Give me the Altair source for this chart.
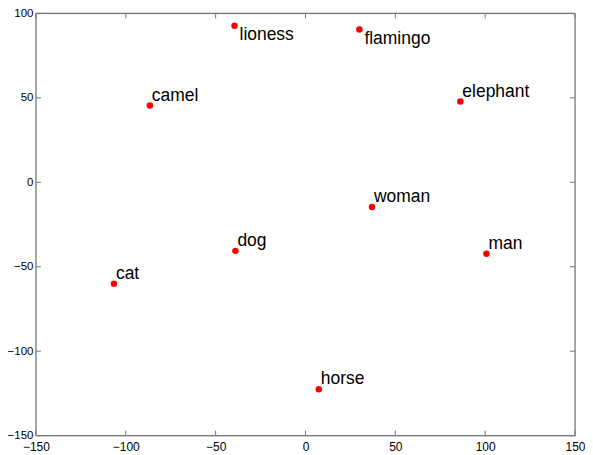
import altair as alt
import pandas as pd

words = ["lioness", "flamingo", "camel", "elephant", "woman", "dog", "man", "cat", "horse"]
xs = [-39.5, 30, -86.6, 86.2, 37, -39, 100.7, -106.6, 7.4]
ys = [92.7, 90.5, 45.4, 47.8, -14.6, -40.6, -42.3, -60, -122.5]
below_words = ["lioness", "flamingo"]
tick_values = [-150, -100, -50, 0, 50, 100, 150]
ytick_values = [-150, -100, -50, 0, 50, 100]

df = pd.DataFrame({"word": words, "x": xs, "y": ys})
ticks = pd.DataFrame({"v": tick_values})
yticks = pd.DataFrame({"v": ytick_values})

W, H = 540, 423
FONT = "Liberation Sans"
GRAY = "#777777"

xscale = alt.Scale(domain=[-150, 150], nice=False, zero=False)
yscale = alt.Scale(domain=[-150, 100], nice=False, zero=False)

xaxis = alt.Axis(values=tick_values, title=None, tickSize=0, labelPadding=6, domain=False,
                 grid=False, labelFont=FONT, labelFontSize=12, labelColor="black", labelFlush=False)
yaxis = alt.Axis(values=ytick_values, title=None, tickSize=0, labelPadding=3, domain=False,
                 grid=False, labelFont=FONT, labelFontSize=11.5, labelColor="black", labelFlush=False)

base = alt.Chart(df)

points = base.mark_circle(size=42, color="#ff0000", opacity=1).encode(
    x=alt.X("x:Q", scale=xscale, axis=xaxis),
    y=alt.Y("y:Q", scale=yscale, axis=yaxis),
)

labels_above = base.transform_filter(
    ~alt.FieldOneOfPredicate(field="word", oneOf=below_words)
).mark_text(align="left", baseline="alphabetic", dx=2, dy=-5, font=FONT, fontSize=17.5, color="black").encode(
    x=alt.X("x:Q", scale=xscale), y=alt.Y("y:Q", scale=yscale), text="word:N"
)

labels_below = base.transform_filter(
    alt.FieldOneOfPredicate(field="word", oneOf=below_words)
).mark_text(align="left", baseline="alphabetic", dx=5, dy=14.5, font=FONT, fontSize=17.5, color="black").encode(
    x=alt.X("x:Q", scale=xscale), y=alt.Y("y:Q", scale=yscale), text="word:N"
)

tk = alt.Chart(ticks)
ytk = alt.Chart(yticks)
xt_bottom = tk.mark_rule(color=GRAY, strokeWidth=1).encode(
    x=alt.X("v:Q", scale=xscale), y=alt.value(H), y2=alt.value(H - 5))
xt_top = tk.mark_rule(color=GRAY, strokeWidth=1).encode(
    x=alt.X("v:Q", scale=xscale), y=alt.value(0), y2=alt.value(5))
yt_left = ytk.mark_rule(color=GRAY, strokeWidth=1).encode(
    y=alt.Y("v:Q", scale=yscale), x=alt.value(0), x2=alt.value(5))
yt_right = ytk.mark_rule(color=GRAY, strokeWidth=1).encode(
    y=alt.Y("v:Q", scale=yscale), x=alt.value(W - 5), x2=alt.value(W))

frame_src = alt.Chart(pd.DataFrame({"k": [0]}))
frame = alt.layer(
    frame_src.mark_rule(color=GRAY, strokeWidth=1.2).encode(x=alt.value(0), y=alt.value(0), y2=alt.value(H)),
    frame_src.mark_rule(color=GRAY, strokeWidth=1.2).encode(x=alt.value(W), y=alt.value(0), y2=alt.value(H)),
    frame_src.mark_rule(color=GRAY, strokeWidth=1.2).encode(y=alt.value(0), x=alt.value(0), x2=alt.value(W)),
    frame_src.mark_rule(color=GRAY, strokeWidth=1.2).encode(y=alt.value(H), x=alt.value(0), x2=alt.value(W)),
)

chart = alt.layer(
    frame, xt_bottom, xt_top, yt_left, yt_right, points, labels_above, labels_below
).properties(
    width=W, height=H,
    autosize=alt.AutoSizeParams(type="none"),
    padding={"left": 28, "top": 5, "right": 10, "bottom": 20},
).configure_view(stroke=None).configure(background="white")

chart.save("out.html", embed_options={"renderer": "svg", "actions": False})
